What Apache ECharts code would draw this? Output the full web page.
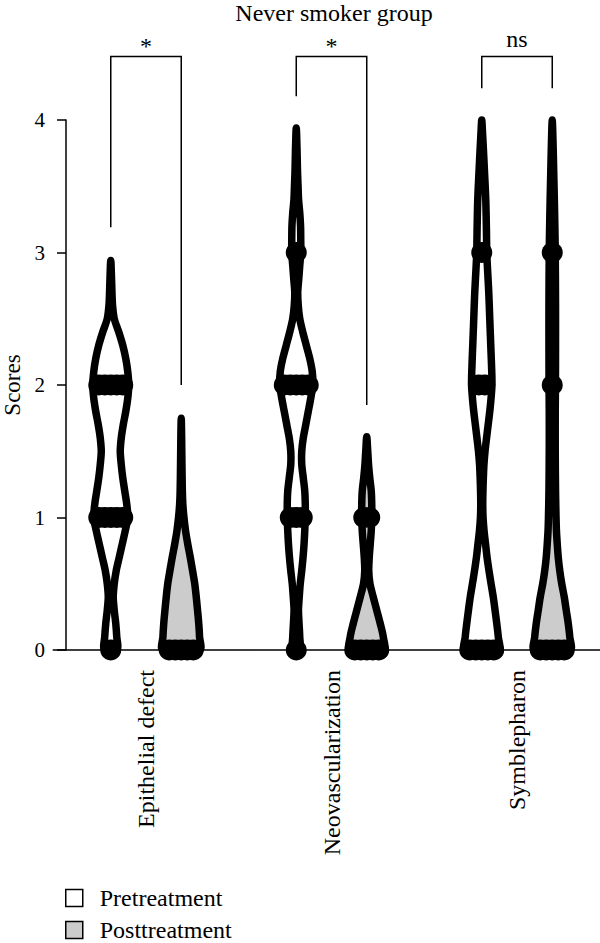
<!DOCTYPE html>
<html><head><meta charset="utf-8">
<script src="https://cdn.jsdelivr.net/npm/echarts@6/dist/echarts.min.js"></script>
<style>html,body{margin:0;padding:0;background:#fff}#c{width:600px;height:943px}</style>
</head><body><div id="c"></div>
<script>
// ---------- data ----------
const categories = ['Epithelial defect', 'Neovascularization', 'Symblepharon'];
const groups = ['Pretreatment', 'Posttreatment'];
const yTicks = [0, 1, 2, 3, 4];

// violin density profiles: [score, relative density]
const epiPre = [[0,.325],[.1,.30],[.2,.25],[.3,.175],[.4,.125],[.5,.175],[.6,.275],[.7,.425],[.8,.575],[.9,.725],[1,.85],[1.1,.80],[1.2,.70],[1.3,.60],[1.4,.525],[1.5,.475],[1.6,.525],[1.7,.625],[1.8,.75],[1.9,.85],[2,.90],[2.1,.85],[2.2,.75],[2.3,.60],[2.4,.40],[2.5,.175],[2.6,.09],[2.7,.06],[2.8,.04],[2.94,0]];
const epiPost = [[0,.925],[.1,.915],[.2,.875],[.3,.815],[.4,.75],[.5,.675],[.6,.565],[.7,.45],[.8,.325],[.9,.215],[1,.135],[1.1,.08],[1.2,.055],[1.4,.035],[1.6,.02],[1.75,0]];
const neoPre = [[0,.175],[.1,.175],[.2,.14],[.3,.11],[.4,.15],[.5,.20],[.6,.275],[.7,.34],[.8,.39],[.9,.425],[1,.45],[1.1,.45],[1.2,.425],[1.3,.35],[1.4,.275],[1.5,.275],[1.6,.35],[1.7,.475],[1.8,.60],[1.9,.725],[2,.825],[2.1,.80],[2.2,.675],[2.3,.50],[2.4,.325],[2.5,.175],[2.6,.10],[2.7,.075],[2.8,.125],[2.9,.175],[3,.225],[3.1,.225],[3.2,.215],[3.3,.175],[3.4,.115],[3.5,.09],[3.6,.065],[3.7,.05],[3.8,.035],[3.94,0]];
const neoPost = [[0,.85],[.1,.825],[.2,.675],[.3,.50],[.4,.325],[.5,.16],[.6,.10],[.7,.125],[.8,.175],[.9,.225],[1,.25],[1.1,.25],[1.2,.225],[1.3,.15],[1.4,.09],[1.5,.05],[1.61,0]];
const symPre = [[0,.85],[.1,.825],[.2,.75],[.3,.665],[.4,.575],[.5,.465],[.6,.36],[.7,.265],[.8,.19],[.9,.115],[1,.065],[1.1,.05],[1.2,.06],[1.3,.08],[1.4,.11],[1.5,.165],[1.6,.24],[1.7,.32],[1.8,.40],[1.9,.465],[2,.51],[2.1,.50],[2.3,.45],[2.5,.40],[2.7,.35],[2.9,.28],[3,.25],[3.1,.24],[3.2,.23],[3.4,.20],[3.6,.14],[3.8,.075],[3.9,.04],[4,0]];
const symPost = [[0,.90],[.1,.875],[.2,.80],[.3,.70],[.4,.60],[.5,.475],[.6,.375],[.7,.30],[.8,.25],[.9,.21],[1,.19],[1.2,.165],[1.5,.15],[1.8,.15],[2,.16],[2.3,.165],[2.6,.165],[3,.15],[3.2,.13],[3.4,.105],[3.6,.075],[3.8,.045],[4,0]];

// number of plotted points at each score 0..4
const preDotCounts  = [[1,5,5,0,0],[1,3,5,1,0],[5,0,2,1,0]];
const postDotCounts = [[5,0,0,0,0],[5,2,0,0,0],[5,0,1,1,0]];

// significance brackets (score units)
const bracketTop = 4.48;
const bracketLeftEnd  = [3.19, 4.18, 4.24];
const bracketRightEnd = [2.0, 1.85, 4.24];
const bracketLabels = ['*', '*', 'ns'];

// ---------- chart ----------
const FONT = '"Liberation Serif", "Times New Roman", serif';
const GROUP_SHIFT = 0.19;   // fraction of category band
const DENSITY_PX = 20;
const DOT_R = 10.5, DOT_STEP = 6;

const preProfiles = [epiPre, neoPre, symPre];
const postProfiles = [epiPost, neoPost, symPost];

function violinRenderer(profiles, counts, side, fill) {
  return function (params, api) {
    const ci = api.value(0);
    const band = api.size([1, 0])[0];
    const cx = api.coord([ci, 0])[0] + side * band * GROUP_SHIFT;
    const left = [], right = [];
    profiles[ci].forEach(function (p) {
      const y = api.coord([ci, p[0]])[1];
      left.push([cx - p[1] * DENSITY_PX, y]);
      right.push([cx + p[1] * DENSITY_PX, y]);
    });
    const pts = left.concat(right.reverse().slice(1));
    const children = [{
      type: 'polygon', shape: { points: pts, smooth: 0.3 },
      style: { fill: fill, stroke: '#000', lineWidth: 7.5, lineJoin: 'round' }
    }];
    counts[ci].forEach(function (n, s) {
      if (!n) return;
      const y = api.coord([ci, s])[1];
      for (let i = 0; i < n; i++) {
        children.push({ type: 'circle', shape: { cx: cx + (i - (n - 1) / 2) * DOT_STEP, cy: y, r: DOT_R }, style: { fill: '#000' } });
      }
    });
    return { type: 'group', children: children };
  };
}

function bracketRenderer(params, api) {
  const ci = api.value(0);
  const band = api.size([1, 0])[0];
  const c = api.coord([ci, 0])[0];
  const xL = c - band * GROUP_SHIFT, xR = c + band * GROUP_SHIFT;
  const yT = api.coord([ci, bracketTop])[1];
  const yL = api.coord([ci, bracketLeftEnd[ci]])[1];
  const yR = api.coord([ci, bracketRightEnd[ci]])[1];
  const lab = bracketLabels[ci];
  return { type: 'group', children: [
    { type: 'polyline', shape: { points: [[xL, yL], [xL, yT], [xR, yT], [xR, yR]] }, style: { fill: 'none', stroke: '#000', lineWidth: 1.5 } },
    { type: 'text', style: { x: (xL + xR) / 2, y: yT - (lab === '*' ? 10.5 : 17.5), text: lab, fill: '#000', font: '24px ' + FONT, align: 'center', verticalAlign: 'middle' } }
  ]};
}

const chart = echarts.init(document.getElementById('c'), null, { renderer: 'svg' });
const catData = categories.map(function (c, i) { return [i, 0]; });

function legendFor(name, top) {
  return { orient: 'vertical', left: 65, top: top, padding: 0, itemWidth: 17, itemHeight: 17,
    icon: 'rect', data: [name], selectedMode: false,
    itemStyle: { borderColor: '#000', borderWidth: 1.5 },
    textStyle: { fontFamily: FONT, fontSize: 24, lineHeight: 17, color: '#000', padding: [0, 0, 0, 12] } };
}

chart.setOption({
  animation: false,
  backgroundColor: '#fff',
  title: { text: 'Never smoker group', left: 329, top: -4, textAlign: 'center',
    textStyle: { fontFamily: FONT, fontSize: 24, fontWeight: 'normal', color: '#000' } },
  grid: { left: 53.25, right: -9.75, top: 120, bottom: 293, containLabel: false, outerBoundsMode: 'none' },
  legend: [legendFor(groups[0], 886), legendFor(groups[1], 918)],
  xAxis: { type: 'category', data: categories,
    axisLine: { lineStyle: { color: '#000', width: 1.5 } },
    axisTick: { alignWithLabel: true, length: 9, lineStyle: { color: '#000', width: 1.5 } },
    axisLabel: { rotate: 90, margin: 20, fontFamily: FONT, fontSize: 24, color: '#000' } },
  yAxis: { type: 'value', min: yTicks[0], max: yTicks[yTicks.length - 1], interval: yTicks[1] - yTicks[0], offset: -12.75,
    axisLine: { show: true, lineStyle: { color: '#000', width: 1.5 } },
    axisTick: { show: true, length: 9, lineStyle: { color: '#000', width: 1.5 } },
    axisLabel: { margin: 21, fontFamily: FONT, fontSize: 21, color: '#000' },
    splitLine: { show: false },
    name: 'Scores', nameLocation: 'middle', nameGap: 42,
    nameTextStyle: { fontFamily: FONT, fontSize: 23, color: '#000' } },
  series: [
    { type: 'custom', name: groups[0], data: catData, encode: { x: 0, y: 1 }, clip: false, z: 3,
      itemStyle: { color: '#ffffff' }, renderItem: violinRenderer(preProfiles, preDotCounts, -1, '#ffffff') },
    { type: 'custom', name: groups[1], data: catData, encode: { x: 0, y: 1 }, clip: false, z: 3,
      itemStyle: { color: '#cccccc' }, renderItem: violinRenderer(postProfiles, postDotCounts, 1, '#cccccc') },
    { type: 'custom', name: 'brackets', data: catData, encode: { x: 0, y: 1 }, clip: false, z: 4,
      renderItem: bracketRenderer }
  ]
});
</script></body></html>
